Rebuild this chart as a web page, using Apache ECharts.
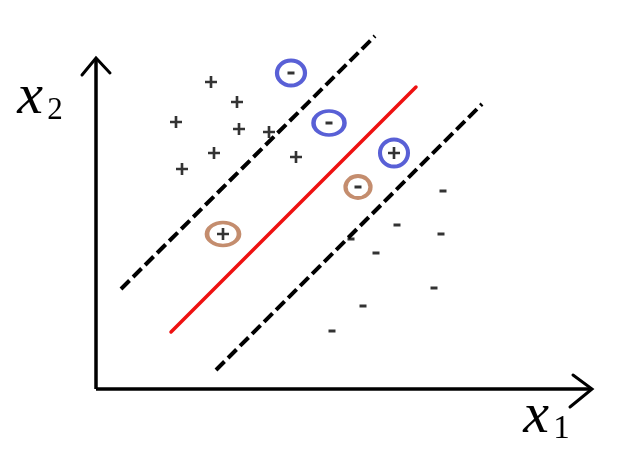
<!DOCTYPE html>
<html>
<head>
<meta charset="utf-8">
<script src="https://cdn.jsdelivr.net/npm/echarts@6/dist/echarts.min.js"></script>
<style>html,body{margin:0;padding:0;background:#fff}#c{width:640px;height:457px}</style>
</head>
<body>
<div id="c"></div>
<script>
// Coordinates in drawing units (origin at the axes corner)
const plusPoints = [[11.5,30.7],[14.1,28.7],[8.0,26.7],[14.3,26.0],[17.3,25.7],[11.8,23.6],[20.0,23.2],[8.6,22.0]];
const minusPoints = [[34.7,19.8],[30.1,16.4],[34.5,15.5],[25.5,15.0],[28.0,13.6],[33.8,10.1],[26.7,8.3],[23.6,5.8]];
const blueCircles = [[19.5,31.6],[23.3,26.6],[29.8,23.6]];
const brownCircles = [[26.2,20.2],[12.7,15.5]];
const circledMinus = [[19.5,31.6],[23.3,26.6],[26.2,20.2]];
const circledPlus = [[29.8,23.6],[12.7,15.5]];
const upperMargin = [[2.5,10.0],[27.9,35.3]];
const hyperplane = [[7.5,5.7],[32.0,30.2]];
const lowerMargin = [[12.0,1.9],[38.6,28.5]];
const xAxisLine = [[0,0],[49.6,0]];
const yAxisLine = [[0,0],[0,33.1]];
const xArrow = [[47.7,1.4],[49.6,0],[47.4,-1.8]];
const yArrow = [[-1.4,31.4],[0,33.1],[1.4,31.6]];

const blueSizes = [[28,25],[31,24],[28,27]];
const brownSizes = [[25,22],[32,23]];

const chart = echarts.init(document.getElementById('c'), null, {renderer:'canvas'});
const lineSeries = (data, color, width, type, cap) => ({
  type:'line', data, symbol:'none', silent:true, clip:false, animation:false,
  lineStyle:{color, width, type, cap: cap || 'butt', join:'miter'}
});
const plusPath = 'path://M3.9,0H6.1V3.9H10V6.1H6.1V10H3.9V6.1H0V3.9H3.9Z';
const txt = (x, y, text, size, italic) => ({
  type:'text', x, y,
  style:{text, fontFamily:'Liberation Serif', fontSize:size, fontStyle: italic ? 'italic' : 'normal',
    fill:'#000', textAlign:'center', textVerticalAlign:'middle'}
});
chart.setOption({
  backgroundColor:'#ffffff',
  animation:false,
  grid:{left:0,right:0,top:0,bottom:0},
  xAxis:{type:'value',min:-9.6,max:54.4,show:false},
  yAxis:{type:'value',min:-6.8,max:38.9,show:false},
  series:[
    lineSeries(xAxisLine,'#000',3.5,'solid'),
    lineSeries(yAxisLine,'#000',3.5,'solid'),
    lineSeries(xArrow,'#000',3,'solid','round'),
    lineSeries(yArrow,'#000',3,'solid','round'),
    lineSeries(upperMargin,'#000',4,[12,5]),
    lineSeries(hyperplane,'#ee1111',3.5,'solid','round'),
    lineSeries(lowerMargin,'#000',4,[12,5]),
    {type:'scatter', data:plusPoints, symbol:plusPath, symbolSize:12, itemStyle:{color:'#000'}, silent:true},
    {type:'scatter', data:minusPoints, symbol:'rect', symbolSize:[7,3], itemStyle:{color:'#000'}, silent:true},
    {type:'scatter', data:circledPlus, symbol:plusPath, symbolSize:12, itemStyle:{color:'#000'}, silent:true},
    {type:'scatter', data:circledMinus, symbol:'rect', symbolSize:[7,3], itemStyle:{color:'#000'}, silent:true},
    {type:'scatter', data:blueCircles, symbol:'circle',
      symbolSize:(v,p)=>blueSizes[p.dataIndex],
      itemStyle:{color:'rgba(0,0,0,0)', borderColor:'#3038cc', borderWidth:4}, silent:true},
    {type:'scatter', data:brownCircles, symbol:'circle',
      symbolSize:(v,p)=>brownSizes[p.dataIndex],
      itemStyle:{color:'rgba(0,0,0,0)', borderColor:'#b5714a', borderWidth:4}, silent:true}
  ],
  graphic:[
    txt(30, 98, 'x', 58, true),
    txt(55, 111, '2', 31, false),
    txt(536, 417, 'x', 58, true),
    txt(561.5, 429, '1', 33, false)
  ]
});
</script>
</body>
</html>
